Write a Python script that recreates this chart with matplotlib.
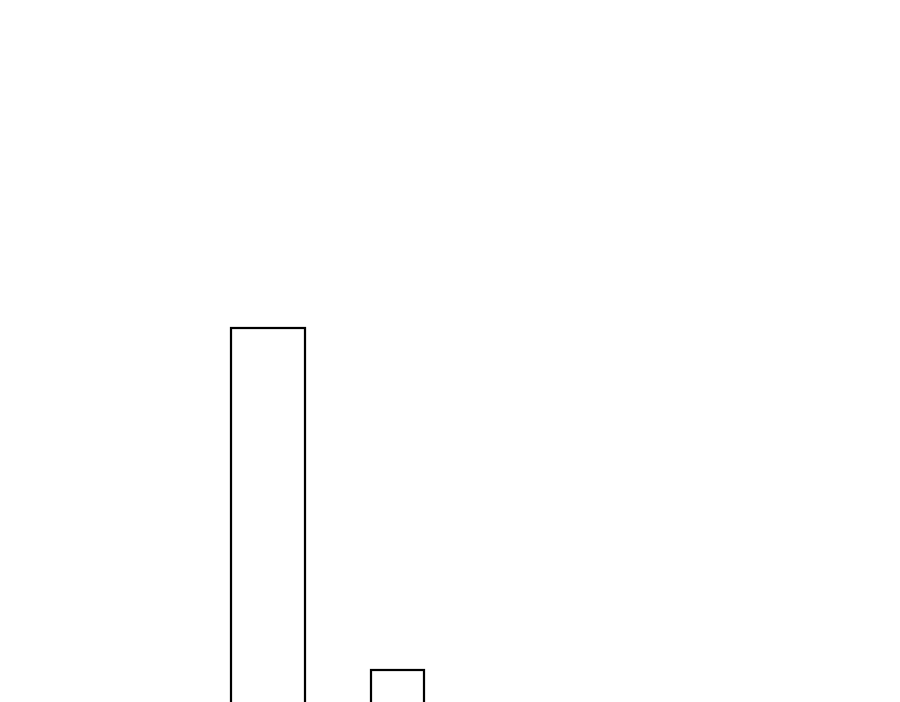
import matplotlib
matplotlib.use("Agg")
import matplotlib.pyplot as plt

# two outlined bars, everything else cut off / hidden
positions=[268,397.5]
heights=[379,37]
widths=[74,53]

fig=plt.figure(figsize=(9,7.02),dpi=100)
ax=fig.add_axes([0,0,1,1])
ax.bar(positions,heights,width=widths,facecolor="white",edgecolor="black",linewidth=1.6)
ax.set_xlim(0,900)
ax.set_ylim(5,707)
ax.axis("off")
fig.savefig("out.png",dpi=100,facecolor="white")
